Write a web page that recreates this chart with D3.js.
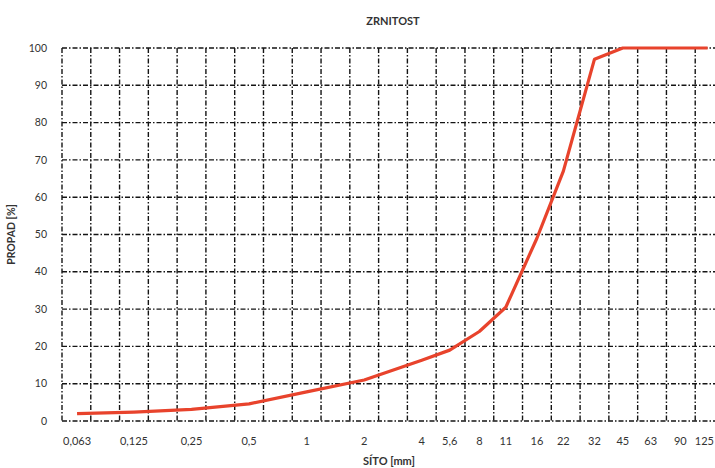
<!DOCTYPE html>
<html>
<head>
<meta charset="utf-8">
<script src="https://cdn.jsdelivr.net/npm/d3@7"></script>
<style>
  html, body { margin: 0; padding: 0; background: #fff; }
  svg { display: block; }
  text { font-family: Lato, "Open Sans", "DejaVu Sans", sans-serif; fill: #333; }
</style>
</head>
<body>
<svg id="chart" width="715" height="468"></svg>
<script>
// ---- data ----
const chartTitle = "ZRNITOST";
const xTitle = "SÍTO [mm]";
const yTitle = "PROPAD [%]";
const sieves = [0.063, 0.125, 0.25, 0.5, 1, 2, 4, 5.6, 8, 11, 16, 22, 32, 45, 63, 90, 125];
const sieveLabels = ["0,063", "0,125", "0,25", "0,5", "1", "2", "4", "5,6", "8", "11", "16", "22", "32", "45", "63", "90", "125"];
const passing = [2, 2.4, 3.1, 4.6, 7.8, 11, 16.3, 19, 24, 30.5, 49, 67, 97, 100, 100, 100, 100];
const yTicks = [0, 10, 20, 30, 40, 50, 60, 70, 80, 90, 100];

// ---- layout ----
const W = 715;
const svg = d3.select("#chart");
const mLeft = 62, mRight = 724, mTop = 48, mBottom = 421;

const x = d3.scaleLog().base(2)
  .domain([Math.pow(2, -4.25), Math.pow(2, 7.25)])
  .range([mLeft, mRight]);
const y = d3.scaleLinear().domain([0, 100]).range([mBottom, mTop]);

const gridVals = d3.range(0, 24).map(k => Math.pow(2, -4.25 + 0.5 * k));

const dash = "5,2,1.5,2";
const g = svg.append("g");

// horizontal gridlines
g.selectAll("line.h").data(yTicks).join("line")
  .attr("class", "h")
  .attr("x1", mLeft).attr("x2", mRight)
  .attr("y1", d => y(d)).attr("y2", d => y(d))
  .attr("stroke", "#141414").attr("stroke-width", 1.4)
  .attr("stroke-dasharray", dash);

// vertical gridlines
g.selectAll("line.v").data(gridVals).join("line")
  .attr("class", "v")
  .attr("x1", d => x(d)).attr("x2", d => x(d))
  .attr("y1", mTop).attr("y2", mBottom)
  .attr("stroke", "#141414").attr("stroke-width", 1.4)
  .attr("stroke-dasharray", dash);

// curve
const line = d3.line()
  .x((d, i) => x(sieves[i]))
  .y(d => y(d));
svg.append("path")
  .datum(passing)
  .attr("d", line)
  .attr("fill", "none")
  .attr("stroke", "#e8432c")
  .attr("stroke-width", 3.2)
  .attr("stroke-linejoin", "round");

// y tick labels
svg.selectAll("text.yt").data(yTicks).join("text")
  .attr("class", "yt")
  .attr("x", 47).attr("y", d => y(d))
  .attr("dy", "0.35em")
  .attr("text-anchor", "end")
  .attr("font-size", 10.5)
  .text(d => d);

// x tick labels (the last one kept inside the page edge)
svg.selectAll("text.xt").data(sieves).join("text")
  .attr("class", "xt")
  .attr("y", 445)
  .text((d, i) => sieveLabels[i])
  .each(function(d) {
    const t = d3.select(this);
    const cx = x(d);
    const w = this.getComputedTextLength();
    if (cx + w / 2 > W - 1) {
      t.attr("x", W - 1).attr("text-anchor", "end");
    } else {
      t.attr("x", cx).attr("text-anchor", "middle");
    }
  })
  .attr("font-size", 11);

// re-check after font-size applied
svg.selectAll("text.xt").each(function(d) {
  const t = d3.select(this);
  const cx = x(d);
  const w = this.getComputedTextLength();
  if (cx + w / 2 > W - 1) {
    t.attr("x", W - 1).attr("text-anchor", "end");
  } else {
    t.attr("x", cx).attr("text-anchor", "middle");
  }
});

// titles
svg.append("text")
  .attr("x", (mLeft + mRight) / 2).attr("y", 25)
  .attr("text-anchor", "middle")
  .attr("font-size", 11).attr("font-weight", "bold")
  .text(chartTitle);

svg.append("text")
  .attr("x", (mLeft + mRight) / 2 - 4).attr("y", 465)
  .attr("text-anchor", "middle")
  .attr("font-size", 11).attr("font-weight", "bold")
  .text(xTitle);

svg.append("text")
  .attr("transform", `translate(15, ${(mTop + mBottom) / 2}) rotate(-90)`)
  .attr("text-anchor", "middle")
  .attr("font-size", 10.5).attr("font-weight", "bold")
  .text(yTitle);
</script>
</body>
</html>
